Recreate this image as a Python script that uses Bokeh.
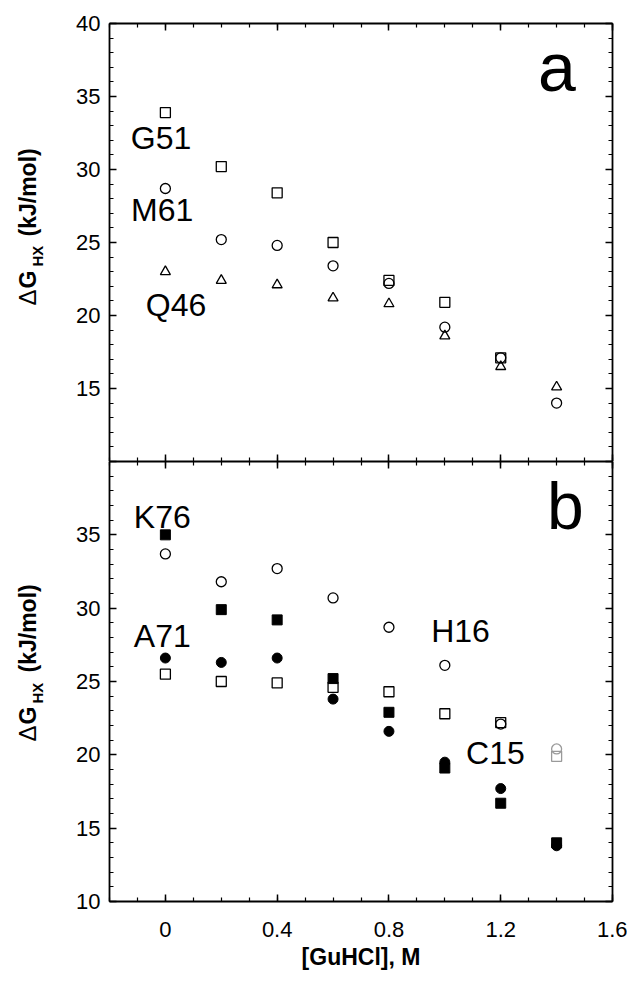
import math
from bokeh.plotting import figure
from bokeh.models import LinearAxis, SingleIntervalTicker, Range1d, Label, ColumnDataSource
from bokeh.core.properties import value
from bokeh.layouts import column, row
from bokeh.embed import file_html
from bokeh.resources import INLINE

FONT = "Liberation Sans"

# ---- data ----
gdn = [0.0, 0.2, 0.4, 0.6, 0.8, 1.0, 1.2, 1.4]
# panel a
g51 = [33.9, 30.2, 28.4, 25.0, 22.4, 20.9, 17.1]
m61 = [28.7, 25.2, 24.8, 23.4, 22.2, 19.2, 17.1, 14.0]
q46 = [23.0, 22.4, 22.1, 21.2, 20.8, 18.6, 16.5, 15.1]
# panel b
k76 = [35.0, 29.9, 29.2, 25.2, 22.9, 19.1, 16.7, 14.0]   # filled squares
h16 = [33.7, 31.8, 32.7, 30.7, 28.7, 26.1, 22.1, 20.4]   # open circles
a71 = [26.6, 26.3, 26.6, 23.8, 21.6, 19.5, 17.7, 13.8]   # filled circles
c15 = [25.5, 25.0, 24.9, 24.6, 24.3, 22.8, 22.2, 19.9]   # open squares

x_tick_labels = {0: "0", 0.4: "0.4", 0.8: "0.8", 1.2: "1.2", 1.6: "1.6"}

LABEL_W = 58
MAIN_W = 569
TOP_H = 461
BOT_H = 515


def style_axis(ax, labels=True, size="22px"):
    ax.axis_line_width = 1.8
    ax.axis_line_color = "black"
    ax.major_tick_in = 7
    ax.major_tick_out = 0
    ax.minor_tick_in = 4
    ax.minor_tick_out = 0
    ax.major_tick_line_width = 1.5
    ax.minor_tick_line_width = 1.2
    ax.major_tick_line_color = "black"
    ax.minor_tick_line_color = "black"
    ax.major_label_text_font = FONT
    if labels:
        ax.major_label_text_font_size = size
        ax.major_label_text_color = "black"
    else:
        ax.major_label_text_font_size = "0px"
        ax.major_label_text_color = None
        ax.major_label_standoff = 0
        ax.axis_label = None


def make_fig(height, btop, bbot, x_labels):
    p = figure(width=MAIN_W, height=height, x_range=Range1d(-0.2, 1.6), y_range=Range1d(10, 40),
               output_backend="svg", toolbar_location=None,
               min_border_left=51, min_border_right=15,
               min_border_top=btop, min_border_bottom=bbot)
    p.grid.visible = False
    p.outline_line_color = None
    xb = p.below[0]
    yl = p.left[0]
    xb.ticker = SingleIntervalTicker(interval=0.4, num_minor_ticks=4)
    yl.ticker = SingleIntervalTicker(interval=5, num_minor_ticks=5)
    above = LinearAxis(ticker=SingleIntervalTicker(interval=0.4, num_minor_ticks=4))
    right = LinearAxis(ticker=SingleIntervalTicker(interval=5, num_minor_ticks=5))
    p.add_layout(above, "above")
    p.add_layout(right, "right")
    style_axis(above, labels=False)
    style_axis(right, labels=False)
    style_axis(yl)
    yl.major_label_standoff = 9
    style_axis(xb, labels=x_labels)
    return p, xb, yl


def add_text(p, txt, x, y, size):
    p.add_layout(Label(x=x, y=y, text=txt, text_font=FONT, text_font_size=size,
                       text_align="left", text_baseline="alphabetic", text_color="black"))


# ---- top panel (a) ----
top, top_x, top_y = make_fig(TOP_H, 23, 0, False)
top_y.major_label_overrides = {10: ""}

top.scatter(gdn[:len(g51)], g51, marker="square", size=10, line_color="black", line_width=1.3, fill_color=None)
top.scatter(gdn, m61, marker="circle", size=10, line_color="black", line_width=1.3, fill_color=None)
top.scatter(gdn, q46, marker="triangle", size=10, line_color="black", line_width=1.3, fill_color=None)

for txt, x, y in [("G51", -0.124, 32.15), ("M61", -0.123, 27.2), ("Q46", -0.07, 20.75)]:
    add_text(top, txt, x, y, "32px")
add_text(top, "a", 1.333, 37.05, "68px")

# ---- bottom panel (b) ----
bot, bot_x, bot_y = make_fig(BOT_H, 0, 75, True)
bot_x.major_label_overrides = x_tick_labels
bot_x.major_label_standoff = 20
bot_x.axis_label = "[GuHCl], M"
bot_x.axis_label_text_font = FONT
bot_x.axis_label_text_font_style = "bold"
bot_x.axis_label_text_font_size = "23px"
bot_x.axis_label_text_color = "black"
bot_x.axis_label_standoff = 4
bot_y.major_label_overrides = {40: ""}

n = len(gdn)
grey_last = ["black"] * (n - 1) + ["#9a9a9a"]
src = ColumnDataSource(dict(x=gdn, k76=k76, h16=h16, a71=a71, c15=c15, lc=grey_last))
bot.scatter("x", "c15", source=src, marker="square", size=10, line_color="lc", line_width=1.3, fill_color=None)
bot.scatter("x", "h16", source=src, marker="circle", size=10, line_color="lc", line_width=1.3, fill_color=None)
bot.scatter("x", "k76", source=src, marker="square", size=10, line_color="black", fill_color="black")
bot.scatter("x", "a71", source=src, marker="circle", size=10, line_color="black", fill_color="black")

for txt, x, y in [("K76", -0.113, 36.25), ("A71", -0.113, 28.1), ("H16", 0.951, 28.45), ("C15", 1.076, 20.15)]:
    add_text(bot, txt, x, y, "32px")
add_text(bot, "b", 1.366, 37.0, "66px")

# ---- y axis titles: ΔG_HX (kJ/mol), drawn in a narrow side figure ----
TOTAL_H = TOP_H + BOT_H
lab = figure(width=LABEL_W, height=TOTAL_H, x_range=Range1d(0, LABEL_W), y_range=Range1d(0, TOTAL_H),
             output_backend="svg", toolbar_location=None, min_border=0)
lab.axis.visible = False
lab.grid.visible = False
lab.outline_line_color = None


def ylabel(y_delta, y_g, y_hx, y_unit):
    base = 27
    sub = 37
    kw = dict(angle=math.pi / 2, text_font=value(FONT), text_align="left",
              text_baseline="alphabetic", text_color="black")
    lab.text(x=[base], y=[y_delta], text=["Δ"], text_font_size="24px", **kw)
    lab.text(x=[base], y=[y_g], text=["G"], text_font_size="23px", text_font_style="bold", **kw)
    lab.text(x=[sub], y=[y_hx], text=["HX"], text_font_size="15px", text_font_style="bold", **kw)
    lab.text(x=[base], y=[y_unit], text=["(kJ/mol)"], text_font_size="23px", text_font_style="bold", **kw)


# positions in page pixels measured from the top: y = TOTAL_H - Y
ylabel(TOTAL_H - 305, TOTAL_H - 288, TOTAL_H - 266, TOTAL_H - 236)
ylabel(TOTAL_H - 741, TOTAL_H - 724, TOTAL_H - 703, TOTAL_H - 672)

layout = row(lab, column(top, bot, spacing=0), spacing=0)
open("out.html", "w").write(file_html(layout, INLINE))
